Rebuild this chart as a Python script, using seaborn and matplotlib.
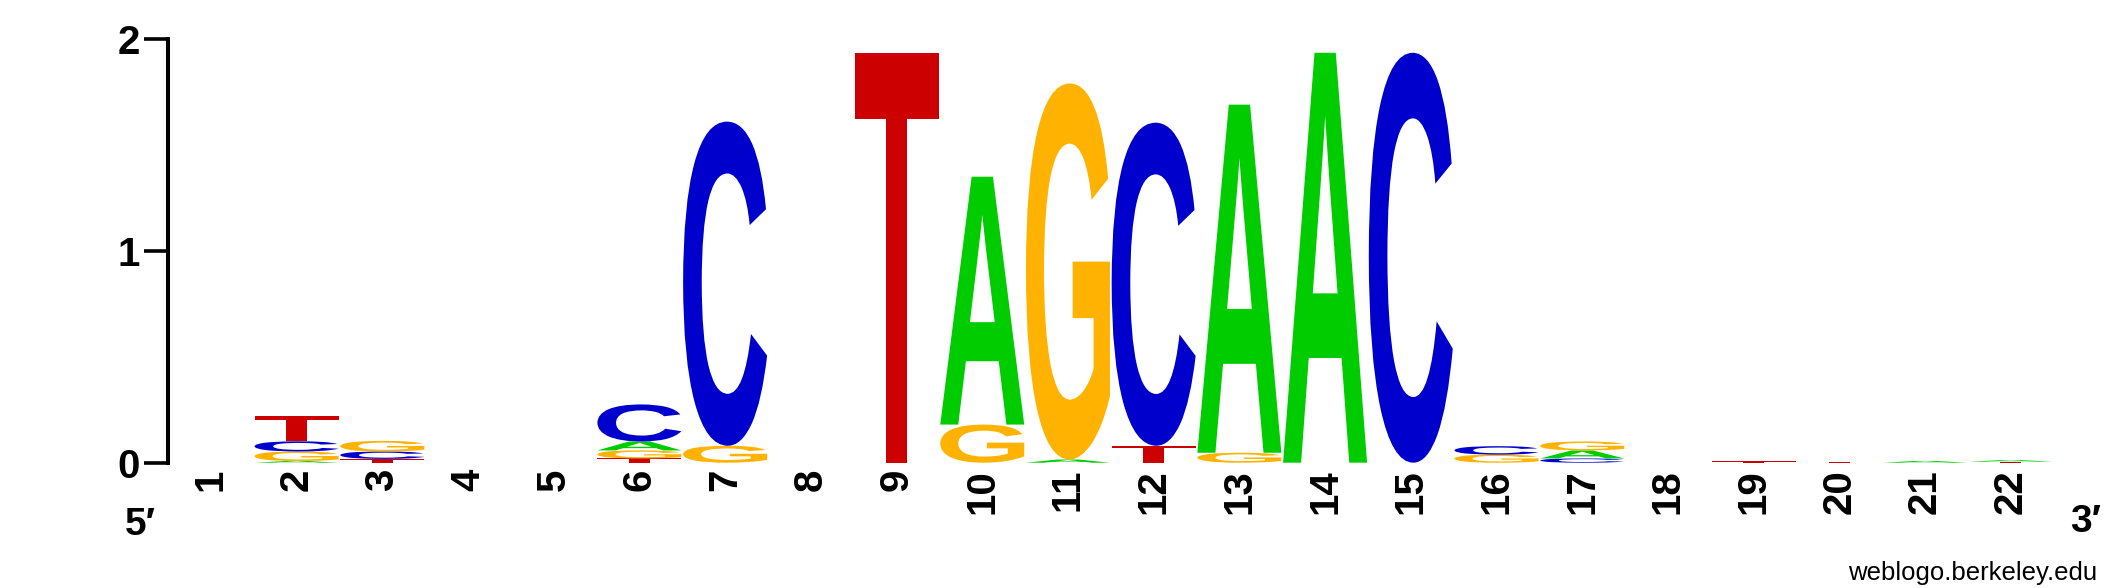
import numpy as np
import matplotlib
matplotlib.use('Agg')
import matplotlib.pyplot as plt
import seaborn as sns
from matplotlib.textpath import TextPath
from matplotlib.patches import PathPatch
from matplotlib.font_manager import FontProperties
from matplotlib.path import Path

# Dados do logo (bits por base em cada posicao)
positions = list(range(1, 23))
A_bits = [0, 0.008, 0, 0, 0, 0.042, 0, 0, 0, 1.17, 0.015, 0, 1.643, 1.935, 0, 0, 0.038, 0, 0, 0, 0.008, 0.007]
C_bits = [0, 0.048, 0.035, 0, 0, 0.175, 1.53, 0, 0, 0, 0, 1.525, 0, 0, 1.935, 0.04, 0.02, 0, 0, 0, 0, 0]
G_bits = [0, 0.045, 0.05, 0, 0, 0.038, 0.08, 0, 0, 0.18, 1.775, 0, 0.047, 0, 0, 0.038, 0.042, 0, 0, 0, 0, 0]
T_bits = [0, 0.12, 0.018, 0, 0, 0.02, 0, 0, 1.935, 0, 0, 0.08, 0, 0, 0, 0, 0, 0, 0.006, 0.005, 0, 0.005]
y_ticks = [0, 1, 2]

bits = {'A': A_bits, 'C': C_bits, 'G': G_bits, 'T': T_bits}
cores = {'A': '#00cc00', 'C': '#0000cc', 'G': '#ffb300', 'T': '#cc0000'}

sns.set_style('white')
plt.rcParams['font.family'] = ['Liberation Sans', 'DejaVu Sans']
plt.rcParams['text.color'] = 'black'
plt.rcParams['xtick.color'] = 'black'
plt.rcParams['ytick.color'] = 'black'

fonte_letra = FontProperties(family='Liberation Sans', weight='bold')
glifos = {}
for b in 'ACGT':
    p = TextPath((0, 0), b, size=1, prop=fonte_letra)
    glifos[b] = (p, p.get_extents())


def desenhar_letra(ax, letra, x, base, altura, largura=0.98):
    p, ext = glifos[letra]
    v = p.vertices.copy()
    v[:, 0] = (v[:, 0] - ext.x0) / ext.width * largura + x - largura / 2
    v[:, 1] = (v[:, 1] - ext.y0) / ext.height * altura + base
    ax.add_patch(PathPatch(Path(v, p.codes), facecolor=cores[letra], lw=0))


fig = plt.figure(figsize=(21.25, 5.88), dpi=100)
ax = fig.add_axes([168 / 2125, 125.3 / 588, 1885.6 / 2125, 423.7 / 588])

# Empilhar as letras: menor embaixo, maior em cima
for i, pos in enumerate(positions):
    pilha = sorted([(bits[b][i], b) for b in 'ACGT' if bits[b][i] > 0])
    base = 0
    for h, b in pilha:
        desenhar_letra(ax, b, pos, base, h)
        base += h

ax.set_xlim(0.5, 22.5)
ax.set_ylim(0, 2)
ax.set_xticks(positions)
ax.set_xticklabels([str(p) for p in positions], rotation=90, fontsize=29,
                   fontweight='bold', va='top', ha='center')
ax.set_yticks(y_ticks)
ax.set_yticklabels([str(t) for t in y_ticks], fontsize=29, fontweight='bold')
ax.tick_params(axis='x', length=0, pad=4.5)
ax.tick_params(axis='y', length=17, width=2.6, pad=3, left=True)
sns.despine(ax=ax, top=True, right=True, bottom=True)
ax.spines['left'].set_linewidth(2.9)
ax.spines['left'].set_color('black')

fig.text(140 / 2125, 1 - 525 / 588, '5\u2032', fontsize=28, fontweight='bold',
         ha='center', va='center')
fig.text(2086 / 2125, 1 - 522 / 588, '3\u2032', fontsize=28, fontweight='bold',
         ha='center', va='center')
fig.text(2097 / 2125, 1 - 580 / 588, 'weblogo.berkeley.edu', fontsize=18.5,
         ha='right', va='baseline')

fig.savefig('out.png', dpi=100)
